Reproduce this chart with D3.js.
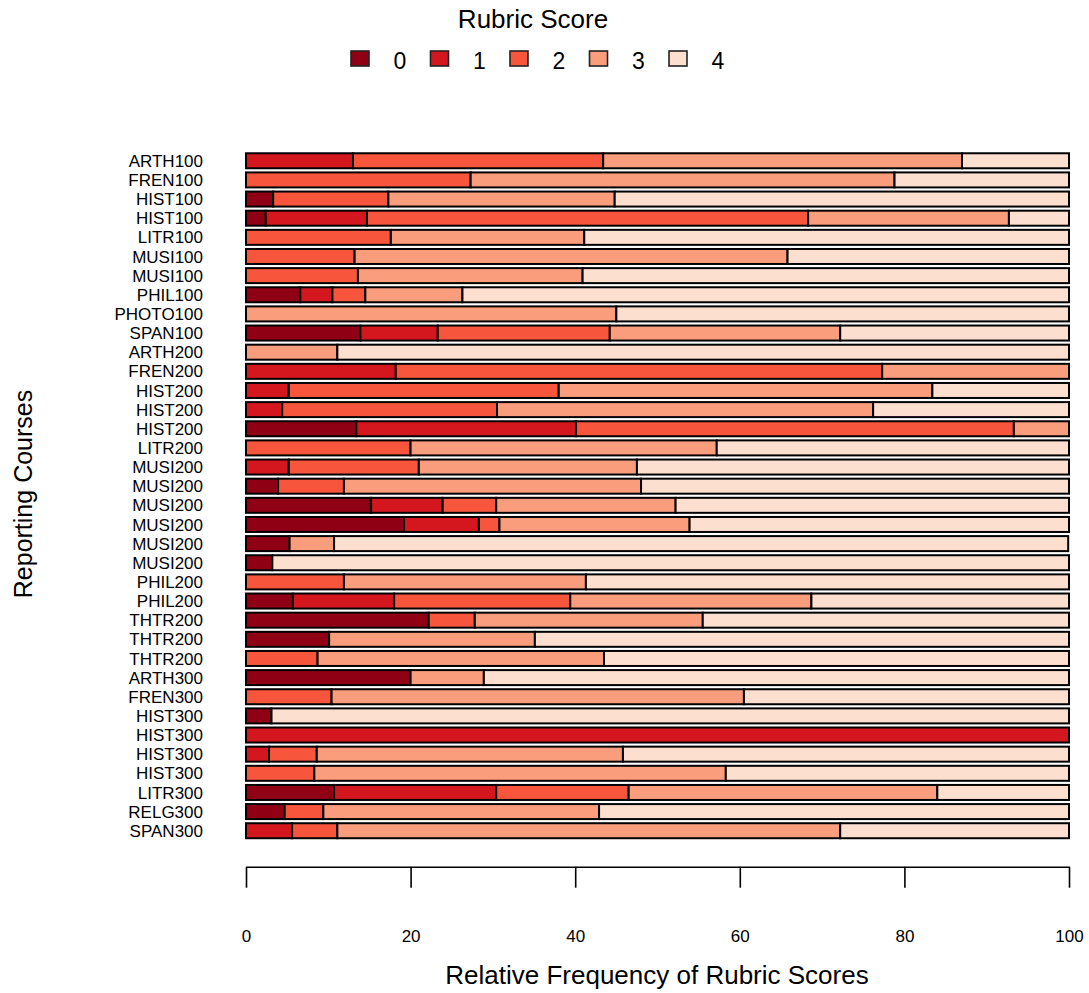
<!DOCTYPE html>
<html>
<head>
<meta charset="utf-8">
<script src="https://cdn.jsdelivr.net/npm/d3@7"></script>
<style>
  body { margin: 0; background: #fff; }
  text { font-family: "Liberation Sans", Arial, Helvetica, sans-serif; fill: #000; }
</style>
</head>
<body>
<svg id="chart" width="1089" height="993"></svg>
<script>
// ---- data ----
const courses = ["ARTH100","FREN100","HIST100","HIST100","LITR100","MUSI100","MUSI100","PHIL100","PHOTO100","SPAN100",
  "ARTH200","FREN200","HIST200","HIST200","HIST200","LITR200","MUSI200","MUSI200","MUSI200","MUSI200","MUSI200","MUSI200",
  "PHIL200","PHIL200","THTR200","THTR200","THTR200","ARTH300","FREN300","HIST300","HIST300","HIST300","HIST300",
  "LITR300","RELG300","SPAN300"];
const scoreLabels = ["0","1","2","3","4"];
const score0 = [0,0,3.3,2.4,0,0,0,6.6,0,13.9, 0,0,0,0,13.4,0,0,3.9,15.2,19.2,5.3,3.2, 0,5.7,22.2,10.1,0,20.0,0,3.1,0,0,0, 10.7,4.7,0];
const score1 = [13.0,0,0,12.3,0,0,0,3.9,0,9.4, 0,18.2,5.2,4.4,26.7,0,5.2,0,8.7,9.1,0,0, 0,12.3,0,0,0,0,0,0,100,2.8,0, 19.7,0,5.6];
const score2 = [30.4,27.3,14.0,53.6,17.6,13.2,13.6,4.0,0,20.9, 0,59.1,32.8,26.1,53.2,20.0,15.8,8.0,6.5,2.5,0,0, 11.9,21.4,5.6,0,8.7,0,10.4,0,0,5.8,8.3, 16.1,4.7,5.5];
const score3 = [43.6,51.5,27.5,24.4,23.5,52.6,27.3,11.8,45.0,28.0, 11.1,22.7,45.4,45.7,6.7,37.2,26.5,36.1,21.8,23.1,5.4,0, 29.4,29.3,27.7,25.0,34.8,8.9,50.1,0,0,37.2,50.0, 37.5,33.5,61.1];
const score4 = [13.0,21.2,55.2,7.3,58.9,34.2,59.1,73.7,55.0,27.8, 88.9,0,16.6,23.8,0,42.8,52.5,52.0,47.8,46.1,89.2,96.8, 58.7,31.3,44.5,64.9,56.5,71.1,39.5,96.9,0,54.2,41.7, 16.0,57.1,27.8];
const xTicks = [0,20,40,60,80,100];
const colors = ["#8f0014","#d4171f","#f7553c","#f99d7d","#fddfd0"];

// ---- build table ----
const series = [score0, score1, score2, score3, score4];
const table = courses.map((c, i) => {
  const row = { idx: i, course: c };
  scoreLabels.forEach((k, j) => row[k] = series[j][i]);
  return row;
});

const svg = d3.select("#chart");
const x = d3.scaleLinear().domain([0, 100]).range([246, 1069]);
const y = d3.scaleBand().domain(courses.map((c, i) => i)).range([151.2, 840.3])
  .paddingInner(0.216).paddingOuter(0.108);
const color = d3.scaleOrdinal().domain(scoreLabels).range(colors);

const stacked = d3.stack().keys(scoreLabels)(table);

// bars
svg.append("g").selectAll("g").data(stacked).join("g")
  .attr("fill", d => color(d.key))
  .selectAll("rect").data(d => d.filter(s => s[1] - s[0] > 0)).join("rect")
  .attr("x", d => x(d[0]))
  .attr("y", d => y(d.data.idx))
  .attr("width", d => x(d[1]) - x(d[0]))
  .attr("height", y.bandwidth())
  .attr("stroke", "#000")
  .attr("stroke-width", 2);

// row labels
svg.append("g").selectAll("text").data(table).join("text")
  .attr("x", 203)
  .attr("y", d => y(d.idx) + y.bandwidth() / 2)
  .attr("dy", "0.36em")
  .attr("text-anchor", "end")
  .attr("font-size", 17)
  .text(d => d.course);

// x axis
const axis = d3.axisBottom(x).tickValues(xTicks).tickSize(21).tickSizeOuter(0).tickPadding(42);
const gx = svg.append("g").attr("transform", "translate(0,866.7)").call(axis);
gx.select(".domain").attr("stroke", "#000").attr("stroke-width", 1.6);
gx.selectAll(".tick line").attr("stroke", "#000").attr("stroke-width", 1.6);
gx.selectAll(".tick text").attr("font-size", 17).attr("font-family", "Liberation Sans, Arial, sans-serif").attr("fill", "#000");

// axis titles
svg.append("text").attr("x", 657).attr("y", 984).attr("text-anchor", "middle")
  .attr("font-size", 26).text("Relative Frequency of Rubric Scores");
svg.append("text").attr("transform", "translate(32,494) rotate(-90)").attr("text-anchor", "middle")
  .attr("font-size", 25).text("Reporting Courses");

// legend
svg.append("text").attr("x", 533).attr("y", 28).attr("text-anchor", "middle")
  .attr("font-size", 26).text("Rubric Score");
const lg = svg.append("g").selectAll("g").data(scoreLabels).join("g")
  .attr("transform", (d, i) => `translate(${351 + i * 79.5},0)`);
lg.append("rect").attr("x", 0).attr("y", 51).attr("width", 18).attr("height", 15)
  .attr("fill", d => color(d)).attr("stroke", "#222").attr("stroke-width", 1.6);
lg.append("text").attr("x", 49).attr("y", 69).attr("text-anchor", "middle")
  .attr("font-size", 23).text(d => d);
</script>
</body>
</html>
